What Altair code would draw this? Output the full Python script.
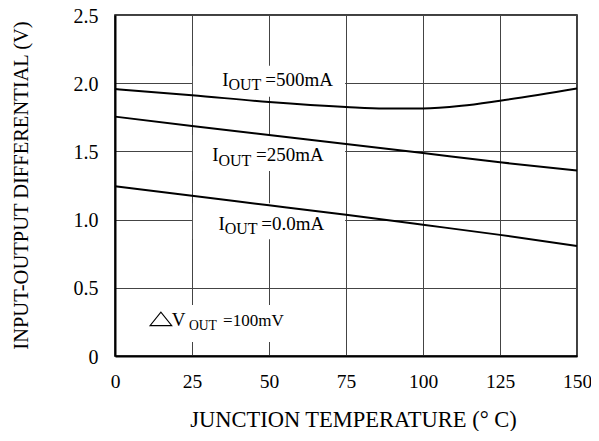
import altair as alt
import pandas as pd

# ---- data ----
temps_500 = [0, 25, 50, 75, 87.5, 100, 112.5, 125, 150]
vdiff_500 = [1.957, 1.912, 1.862, 1.826, 1.815, 1.815, 1.834, 1.872, 1.962]
temps_lin = [0, 25, 50, 75, 100, 125, 150]
vdiff_250 = [1.755, 1.687, 1.620, 1.555, 1.488, 1.420, 1.360]
vdiff_0 = [1.245, 1.174, 1.105, 1.035, 0.962, 0.888, 0.807]

x_ticks = [0, 25, 50, 75, 100, 125, 150]
y_ticks = [0, 0.5, 1.0, 1.5, 2.0, 2.5]

# annotation pieces: text, x (°C), y (V), font size
label_text = ["I", "OUT", "=500mA",
              "I", "OUT", "=250mA",
              "I", "OUT", "=0.0mA",
              "V", "OUT", "=100mV"]
label_x = [34.8, 36.85, 48.8,
           31.6, 33.6, 45.8,
           33.6, 35.6, 47.5,
           18.4, 24.0, 35.1]
label_y = [1.981, 1.952, 1.981,
           1.426, 1.394, 1.426,
           0.924, 0.895, 0.924,
           0.222, 0.191, 0.222]
label_size = [19, 16, 19,
              19, 16, 19,
              19, 16, 19,
              19, 13.6, 17]

# the delta triangle of the ΔV_OUT note
tri_x = [14.9]
tri_y = [0.272]

# white boxes behind labels (hide grid lines)
box_x = [25.3, 25.3, 25.3, 3]
box_x2 = [74.7, 74.7, 74.7, 62]
box_y = [1.90, 1.357, 0.856, 0.103]
box_y2 = [2.128, 1.62, 1.12, 0.374]

curves = pd.concat([
    pd.DataFrame({"t": temps_500, "v": vdiff_500, "s": "500"}),
    pd.DataFrame({"t": temps_lin, "v": vdiff_250, "s": "250"}),
    pd.DataFrame({"t": temps_lin, "v": vdiff_0, "s": "0"}),
])
labels = pd.DataFrame({"text": label_text, "t": label_x, "v": label_y, "size": label_size})
tri = pd.DataFrame({"t": tri_x, "v": tri_y})
boxes = pd.DataFrame({"t": box_x, "t2": box_x2, "v": box_y, "v2": box_y2})

FONT = "Liberation Serif"

xscale = alt.Scale(domain=[0, 150], nice=False, zero=False)
yscale = alt.Scale(domain=[0, 2.5], nice=False, zero=False)

xaxis = alt.Axis(values=x_ticks, title="JUNCTION TEMPERATURE  (° C)",
                 grid=True, gridColor="#444", gridWidth=1,
                 ticks=False, tickSize=0, labelPadding=31, labelBaseline="alphabetic",
                 labelFont=FONT, labelFontSize=19.5, labelColor="black", labelFlush=False,
                 domainColor="black", domainWidth=2,
                 titleFont=FONT, titleFontSize=22.5, titleFontWeight="normal", titleColor="black",
                 titleBaseline="alphabetic", titleX=238, titleY=70, titleAnchor="middle",
                 labelExpr="datum.value")
yaxis = alt.Axis(values=y_ticks, title="INPUT-OUTPUT DIFFERENTIAL  (V)",
                 grid=True, gridColor="#444", gridWidth=1,
                 ticks=False, tickSize=0, labelPadding=17, labelOffset=1,
                 labelFont=FONT, labelFontSize=20, labelColor="black",
                 labelExpr="datum.value == 0 ? '0' : format(datum.value, '.1f')",
                 domainColor="black", domainWidth=2,
                 titleFont=FONT, titleFontSize=20.5, titleFontWeight="normal", titleColor="black",
                 titleBaseline="alphabetic", titleX=-88, titleY=170, titleAngle=270,
                 titleAnchor="middle")

box_layer = alt.Chart(boxes).mark_rect(color="white").encode(
    x=alt.X("t:Q", scale=xscale, axis=xaxis),
    x2="t2:Q",
    y=alt.Y("v:Q", scale=yscale, axis=yaxis),
    y2="v2:Q",
)

line_layer = alt.Chart(curves).mark_line(color="black", strokeWidth=2, interpolate="monotone").encode(
    x=alt.X("t:Q", scale=xscale, axis=xaxis),
    y=alt.Y("v:Q", scale=yscale, axis=yaxis),
    detail="s:N",
)

text_layer = alt.Chart(labels).mark_text(font=FONT, align="left", baseline="alphabetic", color="black").encode(
    x=alt.X("t:Q", scale=xscale, axis=xaxis),
    y=alt.Y("v:Q", scale=yscale, axis=yaxis),
    text="text:N",
    size=alt.Size("size:Q", scale=None, legend=None),
)

tri_layer = alt.Chart(tri).mark_point(
    shape="M-1,0.62L1,0.62L0,-0.62Z", size=471, filled=False,
    stroke="black", strokeWidth=1.1, opacity=1,
).encode(
    x=alt.X("t:Q", scale=xscale, axis=xaxis),
    y=alt.Y("v:Q", scale=yscale, axis=yaxis),
)

chart = alt.layer(box_layer, line_layer, text_layer, tri_layer).properties(
    width=462, height=341,
    autosize=alt.AutoSizeParams(type="none"),
    padding={"left": 107, "top": 7, "right": 14, "bottom": 75},
    background="white",
).configure_view(stroke="black", strokeWidth=1.5)

chart.save("out.html", embed_options={"renderer": "svg", "actions": False})
